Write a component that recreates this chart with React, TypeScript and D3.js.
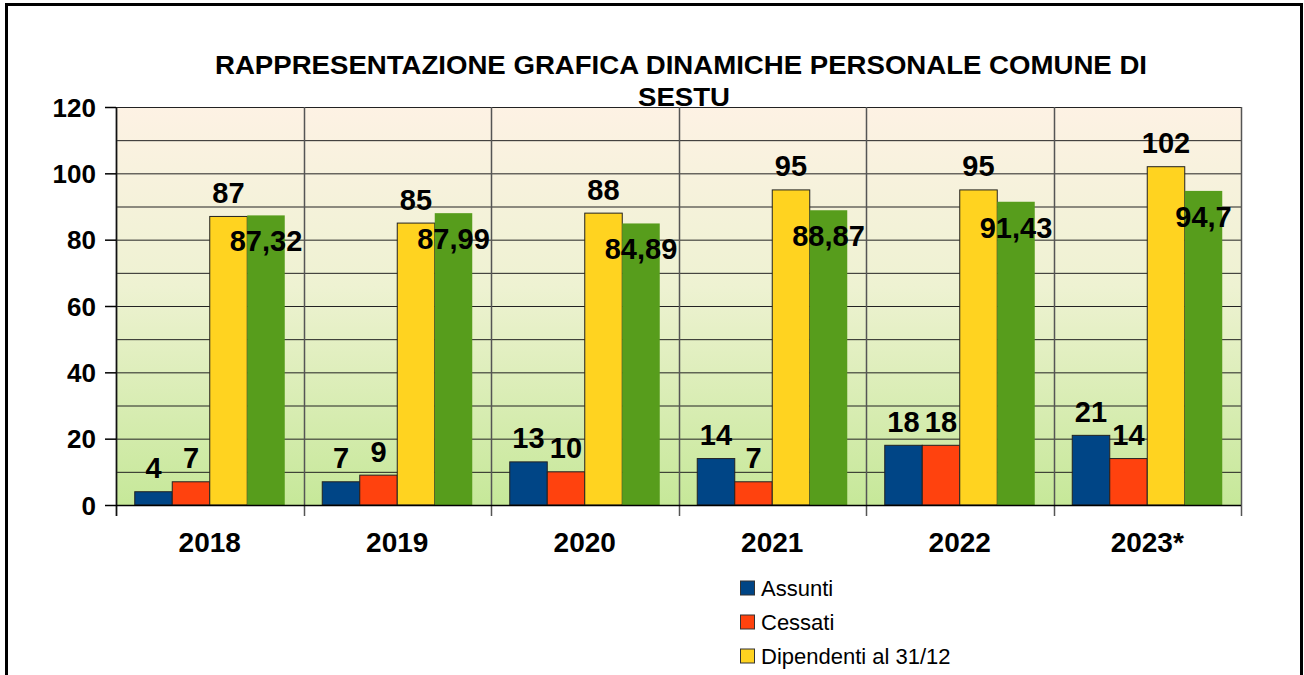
import React from "react";
import * as d3 from "d3";

const categories = ["2018", "2019", "2020", "2021", "2022", "2023*"];
const assunti = [4, 7, 13, 14, 18, 21];
const cessati = [7, 9, 10, 7, 18, 14];
const dipendenti = [87, 85, 88, 95, 95, 102];
const media = [87.32, 87.99, 84.89, 88.87, 91.43, 94.7];
const colors = ["#004586", "#ff420e", "#ffd320", "#579d1c"];
const yTicks = [0, 20, 40, 60, 80, 100, 120];
const legendNames = ["Assunti", "Cessati", "Dipendenti al 31/12"];

const W = 1304;
const H = 675;
const left = 116;
const right = 1241;
const top = 107;
const bottom = 505;
const FONT = "'Liberation Sans', Arial, sans-serif";

export default function App() {
  const series = [assunti, cessati, dipendenti, media];
  const x = d3.scaleBand<string>().domain(categories).range([left, right]).padding(0);
  const xs = d3
    .scaleBand<number>()
    .domain([0, 1, 2, 3])
    .range([0, x.bandwidth()])
    .paddingInner(0)
    .paddingOuter(0.5);
  const y = d3.scaleLinear().domain([0, 120]).range([bottom, top]);
  const grid = d3.range(0, 121, 10);
  const fmt = (v: number) => String(v).replace(".", ",");

  return (
    <svg
      width={W}
      height={H}
      style={{ position: "absolute", left: 0, top: 0, display: "block" }}
      fontFamily={FONT}
    >
      <defs>
        <linearGradient id="bg" x1="0" y1="0" x2="0" y2="1">
          <stop offset="0" stopColor="#fdf2e4" />
          <stop offset="0.45" stopColor="#eef2d2" />
          <stop offset="1" stopColor="#c6e899" />
        </linearGradient>
      </defs>
      <rect x={0} y={0} width={W} height={H} fill="#fff" />
      <rect x={6.5} y={4.5} width={1295} height={720} fill="none" stroke="#000" strokeWidth={3} />

      <text
        x={681}
        y={74}
        textAnchor="middle"
        fontSize={26}
        fontWeight="bold"
        fill="#000"
        textLength={932}
        lengthAdjust="spacingAndGlyphs"
      >
        RAPPRESENTAZIONE GRAFICA DINAMICHE PERSONALE COMUNE DI
      </text>

      <rect x={left} y={top} width={right - left} height={bottom - top} fill="url(#bg)" />
      <text
        x={684}
        y={106}
        textAnchor="middle"
        fontSize={26}
        fontWeight="bold"
        fill="#000"
        textLength={92}
        lengthAdjust="spacingAndGlyphs"
      >
        SESTU
      </text>

      {grid.map((g) => (
        <line key={"g" + g} x1={left} x2={right} y1={y(g) + 0.5} y2={y(g) + 0.5} stroke="#222" strokeWidth={1} />
      ))}
      {categories.map((c) => (
        <line
          key={"v" + c}
          x1={Math.round(x(c)!) + 0.5}
          x2={Math.round(x(c)!) + 0.5}
          y1={top}
          y2={bottom + 11}
          stroke="#555"
          strokeWidth={1.5}
        />
      ))}
      <line x1={right + 0.5} x2={right + 0.5} y1={top} y2={bottom + 11} stroke="#555" strokeWidth={1.5} />
      <line x1={left + 0.5} x2={left + 0.5} y1={top} y2={bottom + 11} stroke="#111" strokeWidth={1.5} />

      {yTicks.map((t) => (
        <g key={"t" + t}>
          <line x1={105} x2={left} y1={y(t) + 0.5} y2={y(t) + 0.5} stroke="#000" strokeWidth={1.5} />
          <text x={96} y={y(t) + 9.5} textAnchor="end" fontSize={26} fontWeight="bold" fill="#000">
            {t}
          </text>
        </g>
      ))}

      {categories.map((c, ci) => (
        <g key={"c" + c}>
          {series.map((s, si) => {
            const bx = x(c)! + xs(si)!;
            const by = y(s[ci]);
            return (
              <rect
                key={si}
                x={bx}
                y={by}
                width={xs.bandwidth()}
                height={bottom - by}
                fill={colors[si]}
                stroke={si < 3 ? "#222" : "none"}
                strokeWidth={1}
              />
            );
          })}
        </g>
      ))}
      <line x1={left} x2={right} y1={bottom + 0.5} y2={bottom + 0.5} stroke="#000" strokeWidth={1.5} />

      {categories.map((c, ci) => (
        <g key={"l" + c}>
          {series.map((s, si) => {
            const cx = x(c)! + xs(si)! + xs.bandwidth() / 2;
            const by = y(s[ci]);
            const ty = si === 3 ? by + 36 : by - 13.5;
            return (
              <text key={si} x={cx} y={ty} textAnchor="middle" fontSize={29} fontWeight="bold" fill="#000">
                {fmt(s[ci])}
              </text>
            );
          })}
          <text
            x={x(c)! + x.bandwidth() / 2}
            y={552}
            textAnchor="middle"
            fontSize={28}
            fontWeight="bold"
            fill="#000"
          >
            {c}
          </text>
        </g>
      ))}

      {legendNames.map((n, i) => {
        const cy = 588 + i * 34;
        return (
          <g key={"lg" + n}>
            <rect x={740.5} y={cy - 7} width={14} height={14} fill={colors[i]} stroke="#333" strokeWidth={1} />
            <text x={761} y={cy + 8} fontSize={22} fill="#000">
              {n}
            </text>
          </g>
        );
      })}
    </svg>
  );
}
